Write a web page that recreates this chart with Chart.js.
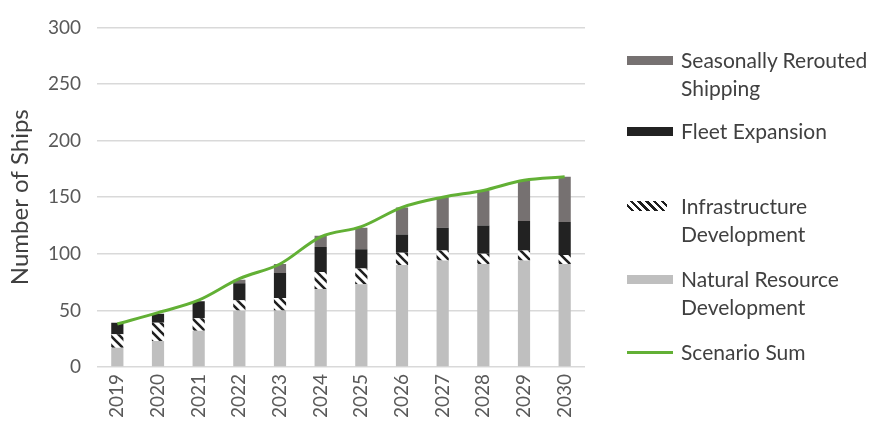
<!DOCTYPE html>
<html>
<head>
<meta charset="utf-8">
<script src="https://cdn.jsdelivr.net/npm/chart.js@4.4.1/dist/chart.umd.min.js"></script>
<style>
  html, body { margin: 0; padding: 0; background: #fff; }
  #wrap { position: relative; width: 881px; height: 430px; }
  #c { position: absolute; left: 0; top: 0; }
  #legend { position: absolute; left: 0; top: 0; width: 881px; height: 430px; pointer-events: none;
            font-family: Lato, "Open Sans", sans-serif; font-size: 21px; color: #404040; }
  .item { position: absolute; left: 627px; display: flex; align-items: flex-start; }
  .sw { width: 46px; height: 9px; margin-right: 8px; flex: none; }
  .txt { line-height: 28px; white-space: nowrap; }
</style>
</head>
<body>
<div id="wrap">
  <canvas id="c" width="881" height="430"></canvas>
  <div id="legend"></div>
</div>
<script>
const years = ['2019','2020','2021','2022','2023','2024','2025','2026','2027','2028','2029','2030'];
const naturalResource = [17, 23, 32, 50, 50, 69, 73, 90, 94, 91, 94, 91];
const infrastructure  = [12, 16, 11,  9, 11, 15, 14, 11,  9,  9,  9,  8];
const fleetExpansion  = [10,  8, 15, 15, 22, 22, 17, 16, 20, 25, 26, 29];
const seasonalReroute = [ 0,  0,  0,  3,  8, 10, 19, 24, 27, 31, 36, 40];
const scenarioSum     = [38, 48, 59, 78, 91, 115, 124, 141, 150, 156, 165, 168];
const yTicks = [0, 50, 100, 150, 200, 250, 300];

function hatch() {
  const s = 9;
  const p = document.createElement('canvas');
  p.width = s; p.height = s;
  const g = p.getContext('2d');
  g.fillStyle = '#ffffff'; g.fillRect(0, 0, s, s);
  g.strokeStyle = '#1f1f1f'; g.lineWidth = 2.6;
  g.beginPath();
  g.moveTo(-2, -2); g.lineTo(s + 2, s + 2);
  g.moveTo(-2, s - 2); g.lineTo(2, s + 2);
  g.moveTo(s - 2, -2); g.lineTo(s + 2, 2);
  g.stroke();
  return g.createPattern(p, 'repeat');
}

const ctx = document.getElementById('c').getContext('2d');
const hatchPattern = hatch();
const FONT = 'Lato, "Open Sans", sans-serif';

const chart = new Chart(ctx, {
  type: 'bar',
  data: {
    labels: years,
    datasets: [
      { label: 'Natural Resource Development', data: naturalResource, backgroundColor: '#bfbfbf', stack: 'a', order: 2 },
      { label: 'Infrastructure Development', data: infrastructure, backgroundColor: hatchPattern, stack: 'a', order: 2 },
      { label: 'Fleet Expansion', data: fleetExpansion, backgroundColor: '#222222', stack: 'a', order: 2 },
      { label: 'Seasonally Rerouted Shipping', data: seasonalReroute, backgroundColor: '#767171', stack: 'a', order: 2 },
      { type: 'line', label: 'Scenario Sum', data: scenarioSum, borderColor: '#62b035', borderWidth: 3,
        pointRadius: 0, cubicInterpolationMode: 'monotone', stack: 'line', order: 0, fill: false }
    ]
  },
  options: {
    responsive: false,
    animation: false,
    devicePixelRatio: 1,
    layout: { padding: { left: 0, right: 296, top: 21, bottom: 0 } },
    datasets: { bar: { barPercentage: 0.6, categoryPercentage: 0.5 } },
    plugins: { legend: { display: false }, tooltip: { enabled: false } },
    scales: {
      x: {
        stacked: true,
        grid: { display: false, drawTicks: false },
        border: { display: false },
        ticks: { color: '#595959', font: { family: FONT, size: 19 }, maxRotation: 90, minRotation: 90, padding: 7 },
        afterFit: (s) => { s.height = 63; }
      },
      y: {
        stacked: true,
        min: 0, max: 300,
        afterBuildTicks: (s) => { s.ticks = yTicks.map(v => ({ value: v })); },
        grid: { color: '#d9d9d9', lineWidth: 1.5, drawTicks: false },
        border: { display: false },
        ticks: { color: '#595959', font: { family: FONT, size: 19 }, padding: 16 },
        title: { display: true, text: 'Number of Ships', color: '#404040',
                 font: { family: FONT, size: 24 }, padding: { top: 6, bottom: 0 } },
        afterFit: (s) => { s.width = 97; }
      }
    }
  }
});

// HTML legend built from datasets
const legendSpec = [
  { ds: 3, top: 46, lines: ['Seasonally Rerouted', 'Shipping'] },
  { ds: 2, top: 117, lines: ['Fleet Expansion'] },
  { ds: 1, top: 192, lines: ['Infrastructure', 'Development'] },
  { ds: 0, top: 265, lines: ['Natural Resource', 'Development'] },
  { ds: 4, top: 338, lines: ['Scenario Sum'] }
];
const leg = document.getElementById('legend');
legendSpec.forEach(it => {
  const d = chart.data.datasets[it.ds];
  const row = document.createElement('div');
  row.className = 'item';
  row.style.top = it.top + 'px';
  const sw = document.createElement('div');
  sw.className = 'sw';
  if (d.type === 'line') {
    sw.style.height = '3px';
    sw.style.marginTop = '13px';
    sw.style.background = d.borderColor;
  } else if (it.ds === 1) {
    sw.style.marginTop = '9px';
    sw.style.height = '10px';
    sw.style.background = 'repeating-linear-gradient(45deg, #fff 0px, #fff 3px, #1f1f1f 3px, #1f1f1f 5.5px)';
    sw.style.width = '40px';
    sw.style.marginRight = '14px';
  } else {
    sw.style.marginTop = '10px';
    sw.style.background = d.backgroundColor;
  }
  const tx = document.createElement('div');
  tx.className = 'txt';
  tx.innerHTML = it.lines.join('<br>');
  row.appendChild(sw);
  row.appendChild(tx);
  leg.appendChild(row);
});
</script>
</body>
</html>
